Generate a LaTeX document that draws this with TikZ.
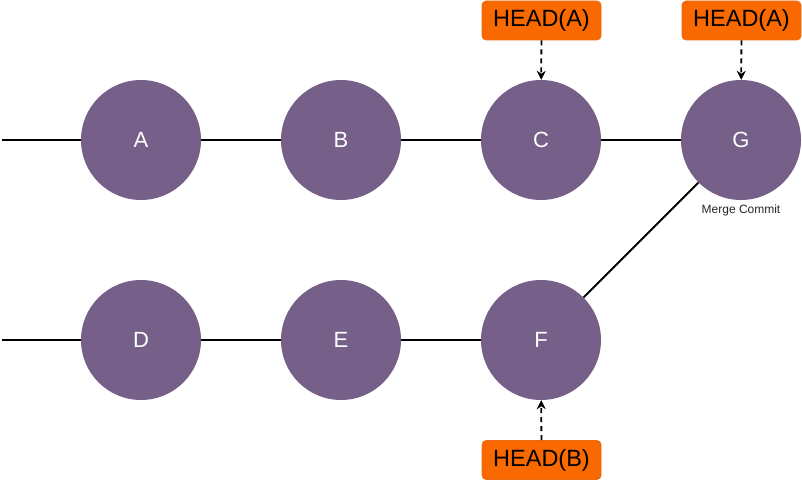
\documentclass[tikz,border=0pt]{standalone}
\usepackage{fontspec}
\setmainfont{Liberation Sans}
\usetikzlibrary{arrows.meta}
\definecolor{commitfill}{HTML}{76608A}
\definecolor{headfill}{HTML}{FA6800}
\definecolor{headdraw}{HTML}{E86A1A}
\begin{document}
\begin{tikzpicture}[x=1pt,y=-1pt,
  commit/.style={circle,fill=commitfill,draw=none,minimum size=120pt,inner sep=0pt,text=white,font=\fontsize{22}{26}\selectfont},
  headbox/.style={rectangle,rounded corners=4pt,fill=headfill,draw=headdraw,line width=0.6pt,minimum width=119pt,minimum height=39pt,inner sep=0pt,font=\fontsize{23.5}{27}\selectfont},
  link/.style={line width=1.8pt,black},
  headarrow/.style={line width=1.8pt,dashed,dash pattern=on 5pt off 4pt,-{Stealth[length=9pt,width=9pt]}},
  note/.style={font=\fontsize{12}{14}\selectfont,text=black!85}]
\useasboundingbox (0,0) rectangle (802,481);
\node[commit] (A) at (141,140) {A};
\node[commit] (B) at (341,140) {B};
\node[commit] (C) at (541,140) {C};
\node[commit] (G) at (741,140) {G};
\node[commit] (D) at (141,340) {D};
\node[commit] (E) at (341,340) {E};
\node[commit] (F) at (541,340) {F};
\node[note] (mc) at (741,210) {Merge Commit};
\coordinate (la) at (2,140);
\coordinate (ld) at (2,340);
\node[headbox] (hc) at (541.5,20.5) {HEAD(A)};
\node[headbox] (hg) at (741.5,20.5) {HEAD(A)};
\node[headbox] (hf) at (541.5,460) {HEAD(B)};
\draw[link] (la) -- (A);
\draw[link] (A) -- (B);
\draw[link] (B) -- (C);
\draw[link] (C) -- (G);
\draw[link] (ld) -- (D);
\draw[link] (D) -- (E);
\draw[link] (E) -- (F);
\draw[link] (F) -- (G);
\draw[headarrow] (hc) -- (C);
\draw[headarrow] (hg) -- (G);
\draw[headarrow] (hf) -- (F);
\end{tikzpicture}
\end{document}
